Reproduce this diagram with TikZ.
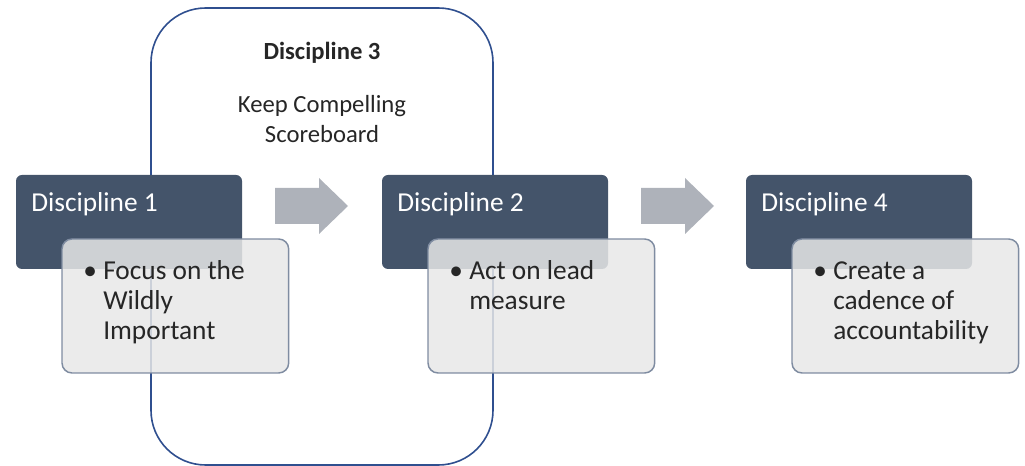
\documentclass[tikz,border=0pt]{standalone}
\usepackage{fontspec}
\setmainfont{Carlito}
\definecolor{dunkel}{HTML}{44546A}
\definecolor{hell}{HTML}{E7E7E7}
\definecolor{grenze}{HTML}{7F8CA1}
\definecolor{rahmenblau}{HTML}{2F4F8F}
\definecolor{pfeilgrau}{HTML}{AEB2BA}
\definecolor{schrift}{HTML}{262626}
\begin{document}
\begin{tikzpicture}[x=0.75pt,y=-0.75pt,
	rahmen/.style={draw=rahmenblau,line width=1.2pt,rounded corners=41pt},
	kopf/.style={fill=dunkel,rounded corners=4.5pt,minimum width=169.5pt,minimum height=70.5pt,anchor=north west,inner sep=0pt,outer sep=0pt},
	inhalt/.style={fill=hell,fill opacity=0.85,draw=grenze,line width=1.1pt,rounded corners=7.5pt,minimum width=170pt,minimum height=100.5pt,anchor=north west,inner sep=0pt,outer sep=0pt},
	titel/.style={text=white,font=\fontsize{20.5}{22.5}\selectfont,anchor=base west,inner sep=0pt},
	eintrag/.style={text=schrift,font=\fontsize{20.5}{22.5}\selectfont,anchor=base west,inner sep=0pt},
	mitte/.style={text=schrift,font=\fontsize{18.5}{22.5}\selectfont,anchor=base,inner sep=0pt},
	pfeil/.style={fill=pfeilgrau}]

\useasboundingbox (0,0) rectangle (1025,466);

\def\stufe#1#2#3#4{
	\node[kopf] (kopf#2) at (#1,175) {};
	\node[titel] (titel#2) at (#1+15,212) {#3};
	\node[inhalt] (inhalt#2) at (#1+46,239) {};
	\node[eintrag] (punkt#2) at (#1+67,280) {\textbullet};
	\node[eintrag] (text#2) at (#1+87,280) {\begin{tabular}[t]{@{}l@{}}#4\end{tabular}};
}

\def\pfeil#1{
	\fill[pfeil] (#1,188) -- (#1+44,188) -- (#1+44,178) -- (#1+73,206)
		-- (#1+44,234) -- (#1+44,224) -- (#1,224) -- cycle;
}

% Disziplin 3
\draw[rahmen] (151,8) rectangle (493,465);
\node[mitte,font=\fontsize{18.5}{22.5}\selectfont\bfseries] (d3) at (322,60) {Discipline 3};
\node[mitte] (d3text) at (322,113) {\begin{tabular}[t]{@{}c@{}}Keep Compelling\\Scoreboard\end{tabular}};

\pfeil{275}
\pfeil{641}

\stufe{16}{1}{Discipline 1}{Focus on the\\Wildly\\Important}
\stufe{382}{2}{Discipline 2}{Act on lead\\measure}
\stufe{746}{4}{Discipline 4}{Create a\\cadence of\\accountability}

\end{tikzpicture}
\end{document}
